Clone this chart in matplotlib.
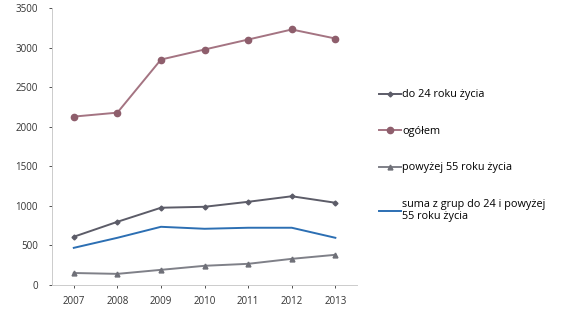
import matplotlib
matplotlib.use("Agg")
import matplotlib.pyplot as plt

years = ["2007", "2008", "2009", "2010", "2011", "2012", "2013"]
do_24 = [608, 797, 975, 987, 1050, 1120, 1038]
ogolem = [2127, 2177, 2848, 2975, 3101, 3228, 3114]
powyzej_55 = [150, 139, 190, 241, 266, 329, 380]
suma = [468, 595, 734, 709, 722, 722, 595]

labels = ["do 24 roku życia", "ogółem", "powyżej 55 roku życia",
          "suma z grup do 24 i powyżej\n55 roku życia"]

plt.rcParams['font.family'] = ['Open Sans', 'DejaVu Sans']

fig = plt.figure(figsize=(5.62, 3.19), dpi=100)
ax = fig.add_axes([0.0925, 0.107, 0.543, 0.868])

x = list(range(len(years)))
l1, = ax.plot(x, do_24, color="#5c5c68", lw=1.4, marker="D", ms=2.5, mfc="#5c5c68", mec="#5c5c68")
l2, = ax.plot(x, ogolem, color="#a47482", lw=1.4, marker="o", ms=4.5, mfc="#8e5e6c", mec="#8e5e6c")
l3, = ax.plot(x, powyzej_55, color="#7f8088", lw=1.4, marker="^", ms=3.5, mfc="#6f7078", mec="#6f7078")
l4, = ax.plot(x, suma, color="#2c6fb3", lw=1.4)

ax.set_xlim(-0.5, len(years) - 0.5)
ax.set_ylim(0, 3500)
ax.set_yticks(range(0, 3501, 500))
ax.set_xticks(x)
ax.set_xticklabels(years)
ax.tick_params(labelsize=7, colors="#333333", length=2, width=0.6)
ax.tick_params(axis="x", pad=6)
ax.tick_params(axis="y", pad=8)
for s in ["top", "right"]:
    ax.spines[s].set_visible(False)
for s in ["left", "bottom"]:
    ax.spines[s].set_color("#cccccc")
    ax.spines[s].set_linewidth(0.7)

fig.legend([l1, l2, l3, l4], labels, loc="upper left",
           bbox_to_anchor=(0.657, 0.75), frameon=False, fontsize=7.8,
           labelspacing=2.35, handlelength=2.0, handletextpad=0.15)

fig.savefig("out.png", dpi=100)
